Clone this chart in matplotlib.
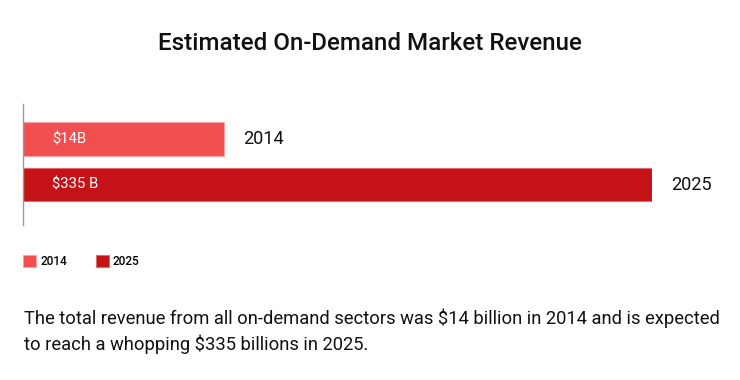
import matplotlib
matplotlib.use('Agg')
from matplotlib import pyplot as plt

plt.rcParams['font.family'] = ['Roboto', 'DejaVu Sans']

years = ['2014', '2025']
# bar lengths as drawn (relative scale, longest = 100)
bar_lengths = [32, 100]
value_labels = ['$14B', '$335 B']
colors = ['#f14f4f', '#c41217']
edges = ['#f8a3a3', '#e26a6e']

title = 'Estimated On-Demand Market Revenue'
note = ('The total revenue from all on-demand sectors was $14 billion in 2014 and is expected\n'
        'to reach a whopping $335 billions in 2025.')

W, H = 740, 380
fig = plt.figure(figsize=(W/100, H/100), dpi=100)

# axes: x 23..652 px, y 104..225 px
ax = fig.add_axes([23/W, 1 - 225/H, (652 - 23)/W, (225 - 104)/H])
pos = list(range(len(years)))
bars = ax.barh(pos, bar_lengths, height=0.73, color=colors, edgecolor=edges,
               linewidth=0.8)
ax.set_xlim(0, 100)
ax.set_ylim(1.88, -0.766)

for p, v, lab, yr in zip(pos, bar_lengths, value_labels, years):
    ax.annotate(lab, (0, p), xytext=(21, 0), textcoords='offset points',
                va='center', ha='left', color='white', fontsize=10.7)
    ax.annotate(yr, (v, p), xytext=(13.5, 0), textcoords='offset points',
                va='center', ha='left', color='#111111', fontsize=13.1)

for s in ['top', 'right', 'bottom']:
    ax.spines[s].set_visible(False)
ax.spines['left'].set_color('#999999')
ax.spines['left'].set_linewidth(1)
ax.set_xticks([])
ax.set_yticks([])

fig.legend(bars, years, loc='upper left', bbox_to_anchor=(23/W, 1 - 255/H),
           ncol=2, frameon=False, borderpad=0, borderaxespad=0,
           handlelength=1.1, handleheight=1.1, handletextpad=0.35,
           columnspacing=2.43, prop={'size': 8.5, 'weight': 'medium'})

fig.text(0.5, 1 - 44/H, title, ha='center', va='center', fontsize=17.4,
         fontweight='medium', color='#111111')
fig.text(24/W, 1 - 331/H, note, ha='left', va='center', fontsize=13.2,
         color='#111111', linespacing=1.43)

fig.savefig('out.png', dpi=100)
